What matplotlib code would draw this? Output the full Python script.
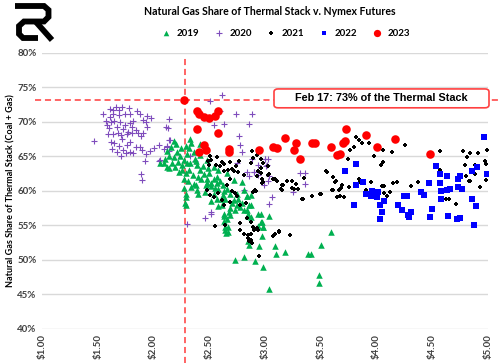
import matplotlib
matplotlib.use("Agg")
import matplotlib.pyplot as plt
from matplotlib.patches import FancyBboxPatch

plt.rcParams['font.family'] = ['Lato', 'DejaVu Sans']

# Nymex futures ($) and gas share of thermal stack (%) by year
x2019 = [2.18, 2.33, 2.34, 2.29, 2.42, 2.09, 2.12, 2.17, 2.18, 2.21, 2.24, 2.22, 2.27, 2.26, 2.26,
         2.29, 2.32, 2.33, 2.37, 2.39, 2.42, 2.45, 2.43, 2.48, 2.48, 2.54, 2.52, 2.57, 2.58, 2.63,
         2.62, 2.64, 2.69, 2.72, 2.76, 2.78, 2.73, 2.84, 2.85, 2.10, 2.14, 2.06, 2.30, 2.36, 2.42,
         2.48, 2.54, 2.58, 2.66, 2.72, 2.79, 2.81, 2.84, 2.28, 2.29, 2.34, 2.38, 2.47, 2.67, 2.67,
         2.64, 2.66, 2.69, 2.63, 2.54, 2.57, 2.61, 2.63, 2.63, 2.64, 2.65, 2.73, 2.81, 2.91, 2.98,
         3.04, 2.86, 2.85, 2.95, 2.97, 2.98, 2.96, 2.94, 3.04, 3.09, 3.10, 3.18, 3.39, 3.41, 3.50,
         3.59, 3.48, 3.48, 2.87, 2.69, 2.75, 2.81, 2.84, 2.86, 2.85, 2.87, 2.87, 2.96, 2.97, 2.94,
         2.98, 2.27, 2.29, 2.29, 2.39, 2.12, 2.16, 2.20, 2.25, 2.19, 2.23, 2.30, 2.35, 2.40, 2.44,
         2.50, 2.52, 2.55, 2.60, 2.62, 2.66, 2.70, 2.75, 2.79, 2.14, 2.31, 2.36, 2.46, 2.40, 2.52,
         2.58, 2.68, 2.32, 2.38, 2.27, 2.49, 2.57, 2.61]
y2019 = [67.3, 67.5, 66.9, 66.5, 66.8, 64.0, 63.5, 64.1, 64.9, 65.7, 65.1, 64.2, 64.5, 63.7, 63.0,
         62.6, 63.0, 64.0, 64.7, 63.7, 63.1, 62.4, 61.8, 61.7, 61.1, 61.8, 60.7, 61.1, 60.3, 60.0,
         59.4, 58.9, 59.6, 58.7, 58.9, 57.7, 57.3, 57.2, 56.3, 64.6, 65.1, 64.1, 65.3, 65.7, 65.2,
         64.5, 63.5, 63.0, 62.6, 61.6, 61.3, 60.1, 59.2, 58.2, 59.6, 60.6, 60.8, 60.8, 54.8, 54.1,
         54.3, 56.0, 56.5, 56.3, 59.6, 58.9, 58.0, 56.7, 55.6, 54.7, 53.9, 50.0, 50.4, 49.9, 48.9,
         45.8, 52.2, 52.7, 52.0, 53.5, 54.8, 55.5, 56.6, 56.4, 52.0, 50.8, 51.1, 50.8, 50.9, 52.1,
         54.1, 47.8, 46.6, 56.2, 57.5, 58.0, 57.3, 59.2, 58.0, 56.6, 59.4, 58.0, 56.7, 55.5, 54.9,
         54.7, 60.4, 59.1, 58.0, 60.1, 65.8, 66.3, 66.8, 66.2, 63.4, 62.8, 64.0, 62.3, 62.0, 63.6,
         62.6, 61.2, 60.4, 61.5, 60.8, 60.3, 58.2, 59.5, 58.3, 63.3, 61.5, 61.0, 59.9, 59.5, 58.6,
         57.8, 57.0, 66.2, 64.4, 61.8, 63.3, 62.0, 58.9]

x2020 = [1.55, 1.61, 1.64, 1.66, 1.69, 1.72, 1.74, 1.78, 1.79, 1.85, 1.88, 1.61, 1.64, 1.69, 1.57,
         1.62, 1.65, 1.70, 1.74, 1.79, 1.82, 1.81, 1.84, 1.81, 1.77, 1.73, 1.67, 1.60, 1.59, 1.64,
         1.68, 1.71, 1.76, 1.86, 1.91, 1.93, 1.94, 1.98, 1.94, 1.91, 1.89, 1.47, 1.62, 1.65, 1.69,
         1.63, 1.67, 1.71, 1.75, 1.79, 1.82, 1.84, 1.88, 1.90, 1.93, 1.92, 1.97, 2.00, 2.05, 2.09,
         2.12, 2.14, 2.11, 2.13, 1.73, 1.76, 1.79, 1.72, 1.89, 1.90, 2.14, 2.14, 2.06, 2.33, 2.37,
         2.61, 2.60, 2.74, 2.88, 2.86, 2.63, 2.54, 2.77, 2.78, 2.79, 2.88, 3.00, 3.02, 2.90, 2.86,
         2.94, 3.04, 3.03, 3.36, 2.51, 2.90, 2.94, 3.00, 3.03, 3.01, 3.31, 3.36, 3.25, 3.06, 3.04,
         2.99, 2.81, 2.52, 2.46, 2.52, 2.30, 2.15, 2.12, 2.05, 2.75, 2.84, 1.58]
y2020 = [71.2, 71.9, 71.7, 72.2, 71.8, 72.2, 71.2, 72.0, 71.1, 71.6, 71.2, 70.7, 71.1, 71.0, 70.2,
         70.0, 70.2, 70.0, 69.6, 69.8, 70.1, 69.3, 68.8, 68.4, 68.6, 69.0, 69.2, 69.1, 68.2, 68.2,
         68.4, 68.1, 68.2, 68.4, 70.3, 70.0, 70.8, 70.6, 69.2, 68.4, 67.9, 67.3, 67.1, 66.9, 66.5,
         66.1, 65.6, 65.0, 65.5, 65.7, 65.5, 66.4, 66.4, 65.9, 65.4, 64.4, 65.8, 66.2, 66.6, 66.1,
         66.5, 70.4, 69.3, 69.1, 65.9, 66.6, 67.1, 67.5, 62.4, 61.6, 67.4, 65.8, 64.5, 65.0, 64.3,
         73.9, 71.6, 71.1, 71.1, 69.7, 69.7, 69.6, 68.0, 66.7, 65.7, 64.7, 64.7, 63.7, 62.7, 62.2,
         62.3, 62.1, 61.5, 62.6, 73.0, 62.8, 63.8, 64.6, 64.7, 63.6, 62.6, 61.0, 59.8, 59.1, 58.1,
         60.8, 60.1, 56.9, 56.1, 56.7, 55.2, 67.4, 66.4, 64.4, 64.0, 62.8, 69.6]

x2021 = [3.82, 3.87, 3.80, 3.93, 3.98, 4.06, 4.14, 4.26, 4.06, 4.04, 3.76, 3.74, 3.84, 4.57, 4.78,
         4.84, 4.91, 4.99, 4.81, 4.79, 4.97, 4.98, 4.88, 4.83, 4.84, 4.98, 4.93, 4.62, 4.65, 4.71,
         3.56, 3.61, 3.63, 3.61, 3.66, 3.68, 3.69, 3.67, 3.71, 3.75, 3.84, 3.85, 3.91, 3.95, 4.05,
         4.07, 4.15, 4.18, 4.12, 4.31, 4.37, 4.07, 4.09, 3.55, 3.64, 2.87, 2.96, 2.98, 3.03, 2.93,
         2.97, 2.97, 3.04, 3.07, 3.11, 3.15, 3.20, 3.24, 3.28, 3.26, 3.30, 3.35, 3.34, 3.42, 3.50,
         2.90, 2.87, 3.09, 3.13, 3.22, 2.87, 2.51, 2.52, 2.61, 2.63, 2.69, 2.70, 2.72, 2.74, 2.77,
         2.76, 2.81, 2.88, 2.89, 2.93, 2.96, 2.94, 2.96, 2.98, 3.03, 3.09, 3.14, 3.16, 2.92, 2.57,
         2.49, 2.50, 2.56, 2.60, 2.63, 2.67, 2.69, 2.66, 2.70, 2.73, 2.75, 2.48, 2.51, 2.54, 2.58,
         2.61, 2.63, 2.69, 2.78, 2.83, 2.55, 2.64, 2.78, 2.78, 2.81, 2.85, 2.84, 2.85, 2.86, 2.88,
         2.87, 2.89, 2.90, 2.93, 2.94, 3.07, 3.13, 2.95, 3.15, 3.24, 3.33, 3.42, 3.49, 3.60, 3.65,
         2.89, 2.91, 4.57, 4.80, 4.88]
y2021 = [67.8, 66.9, 66.4, 66.9, 65.1, 65.9, 65.6, 66.6, 64.2, 63.8, 66.0, 64.7, 67.4, 65.8, 65.8,
         65.5, 65.5, 66.0, 64.9, 63.7, 64.4, 63.9, 63.7, 61.4, 61.4, 61.6, 60.6, 58.9, 58.9, 58.1,
         62.8, 62.0, 61.3, 60.1, 60.1, 60.4, 60.8, 59.2, 59.1, 60.6, 61.8, 61.3, 60.2, 61.3, 60.7,
         60.7, 61.2, 61.3, 59.9, 60.7, 61.3, 59.7, 59.3, 62.9, 61.5, 64.0, 64.6, 64.0, 63.6, 62.2,
         61.8, 61.2, 62.5, 61.8, 61.5, 60.8, 61.4, 61.5, 61.0, 60.3, 60.3, 61.9, 58.9, 59.3, 59.6,
         60.0, 53.7, 53.7, 54.2, 53.6, 52.9, 65.0, 64.5, 64.2, 62.9, 64.2, 63.2, 62.9, 63.6, 64.3,
         62.8, 62.3, 65.8, 64.8, 65.2, 63.3, 62.9, 62.6, 61.3, 62.3, 61.7, 60.3, 60.9, 60.0, 64.9,
         64.3, 63.7, 63.7, 63.6, 63.9, 63.0, 61.8, 60.8, 60.0, 59.7, 59.3, 60.1, 59.4, 59.1, 59.7,
         58.7, 57.9, 58.4, 57.9, 58.2, 54.9, 55.1, 55.3, 54.3, 53.8, 53.6, 56.1, 53.2, 52.8, 52.5,
         55.5, 54.8, 54.4, 54.6, 54.4, 53.5, 54.1, 50.5, 60.2, 60.4, 58.8, 59.3, 59.5, 60.2, 59.1,
         59.9, 60.2, 63.0, 62.1, 62.5]

x2022 = [3.82, 3.72, 3.88, 3.82, 3.96, 3.91, 3.95, 4.01, 4.00, 4.07, 4.03, 4.05, 4.03, 3.80, 4.19,
         4.23, 4.27, 4.25, 4.28, 4.29, 4.31, 4.40, 4.43, 4.47, 4.50, 4.48, 4.53, 4.57, 4.57, 4.58,
         4.58, 4.63, 4.63, 4.66, 4.64, 4.72, 4.75, 4.73, 4.75, 4.73, 4.77, 4.86, 4.86, 4.89, 4.90,
         4.87, 4.96, 4.99]
y2022 = [63.9, 62.9, 61.3, 60.8, 60.0, 59.6, 59.3, 59.9, 59.1, 58.6, 58.0, 57.0, 56.0, 57.9, 57.9,
         57.3, 59.3, 59.3, 56.5, 56.2, 57.0, 59.9, 59.4, 61.1, 57.4, 56.2, 63.6, 62.5, 61.2, 60.0,
         58.8, 62.1, 60.1, 60.3, 56.3, 56.0, 56.1, 60.6, 62.2, 61.8, 60.3, 58.8, 62.9, 57.8, 63.5,
         55.0, 67.8, 62.4]

x2023 = [2.27, 2.39, 2.41, 2.45, 2.50, 2.55, 2.58, 2.39, 2.58, 2.45, 2.47, 2.41, 2.68, 2.68, 2.95,
         3.07, 3.11, 3.18, 3.28, 3.26, 3.31, 3.42, 3.45, 3.59, 3.65, 3.67, 3.70, 3.72, 3.73, 3.91,
         4.00, 4.17, 4.48]
y2023 = [73.2, 71.6, 71.2, 70.7, 70.6, 70.8, 71.6, 69.0, 68.4, 66.6, 66.0, 65.6, 66.1, 65.7, 65.9,
         66.3, 66.2, 67.7, 67.0, 66.0, 64.6, 67.0, 66.9, 66.3, 65.2, 65.4, 67.0, 67.3, 69.0, 68.1,
         66.4, 67.6, 65.3]

latest_price = 2.28
latest_share = 73.2
note = "Feb 17: 73% of the Thermal Stack"

x_ticks = [1.0, 1.5, 2.0, 2.5, 3.0, 3.5, 4.0, 4.5, 5.0]
y_ticks = [40, 45, 50, 55, 60, 65, 70, 75, 80]

fig = plt.figure(figsize=(5.0, 3.63), dpi=100)
ax = fig.add_axes([0.084, 0.094, 0.892, 0.76])

ax.scatter(x2019, y2019, marker='^', s=22, color='#00b050', lw=0, label='2019', zorder=3)
ax.scatter(x2020, y2020, marker='+', s=24, color='#7f4cbc', lw=0.8, label='2020', zorder=2)
ax.scatter(x2021, y2021, marker='P', s=12, color='black', lw=0, label='2021', zorder=4)
ax.scatter(x2022, y2022, marker='s', s=16, color='#0000ff', lw=0, label='2022', zorder=4)
ax.scatter(x2023, y2023, marker='o', s=38, color='#ff0000', lw=0, label='2023', zorder=5)

# guide lines through the latest point
ax.axhline(latest_share, xmin=-0.015, xmax=1.03, color='#ff3b3b', lw=1.1, ls=(0, (4, 2.5)),
           clip_on=False, zorder=1)
ax.axvline(latest_price, ymin=-0.125, ymax=0.985, color='#ff3b3b', lw=1.1, ls=(0, (4, 2.5)),
           clip_on=False, zorder=1)

ax.set_xlim(1.0, 5.0)
ax.set_ylim(40, 80)
ax.set_xticks(x_ticks)
ax.set_xticklabels(['${:.2f}'.format(v) for v in x_ticks], rotation=90,
                   fontsize=7, fontweight='bold', color='#404040')
ax.set_yticks(y_ticks)
ax.set_yticklabels(['{}%'.format(v) for v in y_ticks], fontsize=7, fontweight='bold', color='#404040')
ax.tick_params(axis='both', length=0, pad=4)
ax.grid(axis='y', color='#d9d9d9', lw=1)
ax.set_axisbelow(True)
for side in ['top', 'right', 'left', 'bottom']:
    ax.spines[side].set_visible(False)

ax.set_ylabel('Natural Gas Share of Thermal Stack (Coal + Gas)', fontsize=6.5, fontweight='bold',
              labelpad=1)

fig.text(0.54, 0.967, 'Natural Gas Share of Thermal Stack v. Nymex Futures', ha='center', va='center',
         fontsize=7.6, fontweight='bold')

leg = fig.legend(loc='center', bbox_to_anchor=(0.566, 0.909), ncol=5, frameon=False,
                 handletextpad=0.1, columnspacing=1.0, markerscale=0.85, prop={'weight': 'bold', 'size': 7})

# callout box
box = FancyBboxPatch((0.548, 0.703), 0.43, 0.052, boxstyle='round,pad=0,rounding_size=0.008',
                     transform=fig.transFigure, facecolor='white', edgecolor='#ff4040', lw=1.2, zorder=6)
fig.patches.append(box)
fig.text(0.763, 0.729, note, ha='center', va='center', fontsize=7.8, fontweight='bold',
         family=['Liberation Sans', 'DejaVu Sans'], zorder=7)

# logo
lax = fig.add_axes([0, 1 - 45 / 363, 60 / 500, 45 / 363])
lax.set_xlim(0, 60)
lax.set_ylim(45, 0)
lax.axis('off')
lax.plot([15, 44, 48.5, 48.5, 44, 24, 19, 19, 23, 38], [6, 6, 10, 17, 21.5, 21.5, 26, 34, 38, 38],
         color='black', lw=4.2, solid_joinstyle='miter', solid_capstyle='butt')
lax.plot([36, 52], [22, 40], color='black', lw=4.2, solid_capstyle='butt')

fig.savefig('out.png', dpi=100)
